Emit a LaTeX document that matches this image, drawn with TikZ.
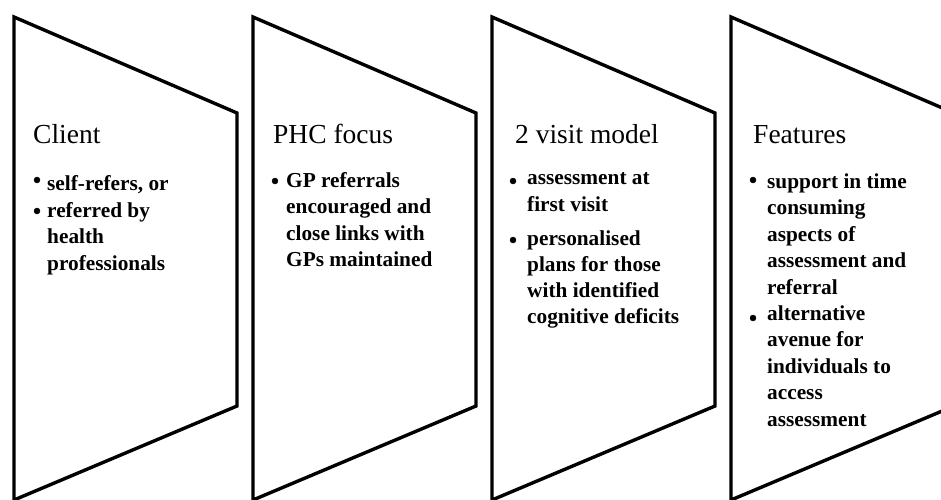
\documentclass[tikz,border=0pt]{standalone}
\usepackage{fontspec}
\setmainfont{Liberation Serif}
\begin{document}
\begin{tikzpicture}[x=1pt,y=-1pt,
  panel/.style={draw=black,line width=3.4pt,line join=miter},
  heading/.style={anchor=base west,inner sep=0pt,font=\fontsize{27.5}{33}\selectfont},
  itemline/.style={anchor=base west,inner sep=0pt,font=\fontsize{21.3}{26.5}\selectfont\bfseries},
  bulletdot/.style={circle,fill=black,draw=black,line width=0.4pt,inner sep=0pt,minimum size=6pt}]
\useasboundingbox (0,0) rectangle (941,499);

% four chevron panels
\foreach \L in {14,253,492,731}
  \draw[panel] (\L,17) -- (\L+223,113) -- (\L+223,406) -- (\L,500) -- cycle;

% panel 1: Client
\node[heading] (t1) at (33,143) {Client};
\node[bulletdot] (b1a) at (37,180) {};
\node[itemline] (i1a) at (47,190) {self-refers, or};
\node[bulletdot] (b1b) at (37,211) {};
\foreach \t [count=\i from 0] in {referred by, health, professionals}
  \node[itemline] (i1b\i) at (47,217+26.5*\i) {\t};

% panel 2: PHC focus
\node[heading] (t2) at (273,143) {PHC focus};
\node[bulletdot] (b2a) at (275,181) {};
\foreach \t [count=\i from 0] in {GP referrals, encouraged and, close links with, GPs maintained}
  \node[itemline] (i2a\i) at (286,187+26.5*\i) {\t};

% panel 3: 2 visit model
\node[heading] (t3) at (515,143) {2 visit model};
\node[bulletdot] (b3a) at (513,181) {};
\foreach \t [count=\i from 0] in {assessment at, first visit}
  \node[itemline] (i3a\i) at (527,184.5+26.5*\i) {\t};
\node[bulletdot] (b3b) at (513,240) {};
\foreach \t [count=\i from 0] in {personalised, plans for those, with identified, cognitive deficits}
  \node[itemline] (i3b\i) at (527,245+26*\i) {\t};

% panel 4: Features
\node[heading] (t4) at (753,143) {Features};
\node[bulletdot] (b4a) at (753,180) {};
\foreach \t [count=\i from 0] in {support in time, consuming, aspects of, assessment and, referral}
  \node[itemline] (i4a\i) at (767,188+26.6*\i) {\t};
\node[bulletdot] (b4b) at (753,318) {};
\foreach \t [count=\i from 0] in {alternative, avenue for, individuals to, access, assessment}
  \node[itemline] (i4b\i) at (767,320+26.6*\i) {\t};
\end{tikzpicture}
\end{document}
